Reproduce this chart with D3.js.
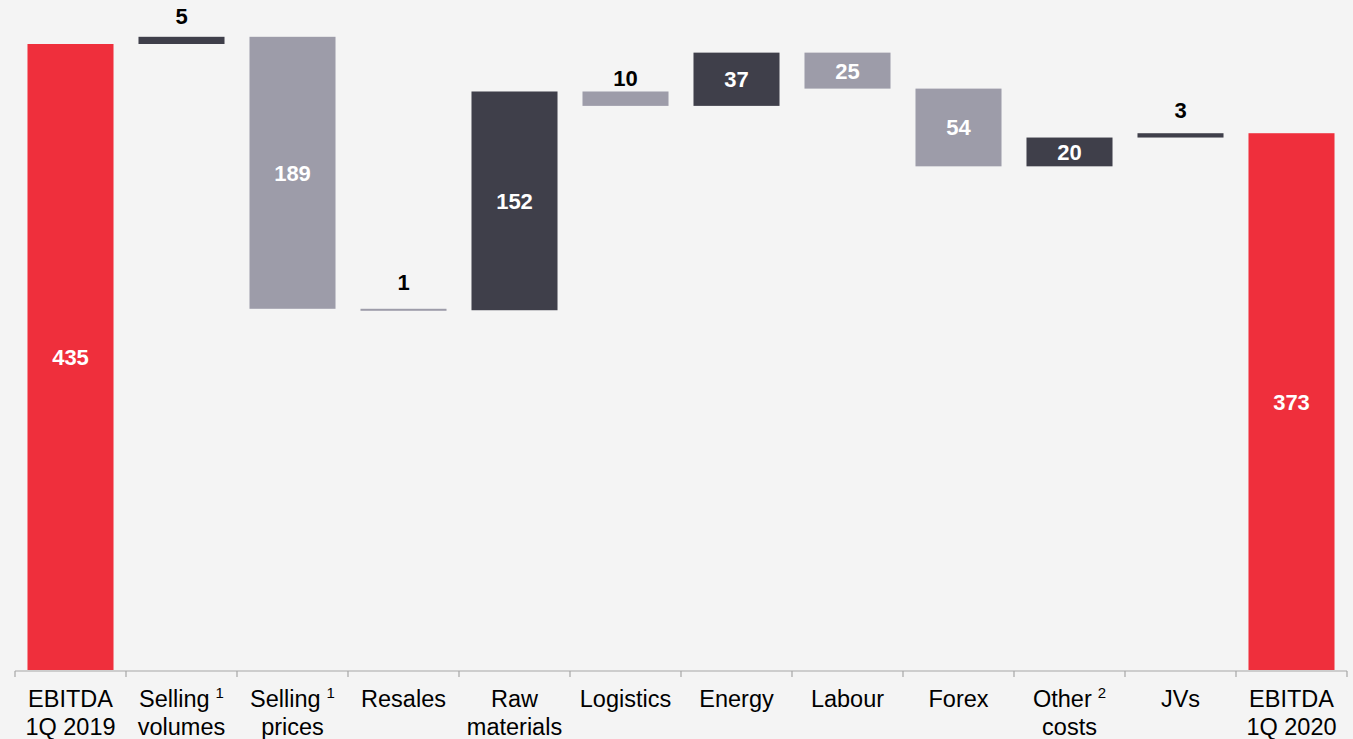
<!DOCTYPE html>
<html>
<head>
<meta charset="utf-8">
<script src="https://cdn.jsdelivr.net/npm/d3@7"></script>
<style>
html,body{margin:0;padding:0;background:#f4f4f4;}
svg{display:block;font-family:"Liberation Sans",Arial,Helvetica,sans-serif;}
</style>
</head>
<body>
<svg id="chart" width="1353" height="739"></svg>
<script>
// ---- data ----
const categories = ["EBITDA 1Q 2019","Selling volumes","Selling prices","Resales","Raw materials","Logistics","Energy","Labour","Forex","Other costs","JVs","EBITDA 1Q 2020"];
const labelLine1 = ["EBITDA","Selling","Selling","Resales","Raw","Logistics","Energy","Labour","Forex","Other","JVs","EBITDA"];
const labelLine2 = ["1Q 2019","volumes","prices","","materials","","","","","costs","","1Q 2020"];
const superscripts = ["","1","1","","","","","","","2","",""];
const values = [435, 5, -189, -1, 152, -10, 37, -25, -54, 20, 3, 373];
const kinds = ["total","delta","delta","delta","delta","delta","delta","delta","delta","delta","delta","total"];

const colors = {total:"#ef2f3c", up:"#3f3f4a", down:"#9d9ca9"};

// ---- build waterfall ----
let running = 0;
const bars = categories.map((c,i)=>{
  let y0, y1, kind;
  if (kinds[i]==="total") { y0 = 0; y1 = values[i]; running = values[i]; kind="total"; }
  else { y0 = running; y1 = running + values[i]; running = y1; kind = values[i] >= 0 ? "up" : "down"; }
  return {cat:c, i, lo:Math.min(y0,y1), hi:Math.max(y0,y1), label:Math.abs(values[i]), kind};
});

const svg = d3.select("#chart");
const x = d3.scaleBand().domain(categories).range([15,1347]).paddingInner(0.225).paddingOuter(0.1125);
const y = d3.scaleLinear().domain([0,435]).range([670,44]);

// bars
svg.append("g").selectAll("rect").data(bars).join("rect")
  .attr("x", d=>x(d.cat))
  .attr("width", x.bandwidth())
  .attr("y", d=>y(d.hi))
  .attr("height", d=>Math.max(2, y(d.lo)-y(d.hi)))
  .attr("fill", d=>colors[d.kind]);

// value labels
svg.append("g").selectAll("text").data(bars).join("text")
  .attr("x", d=>x(d.cat)+x.bandwidth()/2)
  .attr("text-anchor","middle")
  .attr("font-size", 22)
  .attr("font-weight","bold")
  .each(function(d){
    const h = y(d.lo)-y(d.hi);
    const t = d3.select(this);
    if (h < 20) {
      t.attr("y", y(d.lo)-20).attr("fill","#000");
    } else {
      t.attr("y", (y(d.lo)+y(d.hi))/2).attr("dy","0.36em").attr("fill","#fff");
    }
  })
  .text(d=>d.label);

// axis
const axisG = svg.append("g");
const step = x.step();
const left = x(categories[0]) - step*x.paddingOuter();
axisG.append("line")
  .attr("x1", left).attr("x2", x.range()[1])
  .attr("y1", 671).attr("y2", 671)
  .attr("stroke","#a6a6a6").attr("stroke-width",1.2);
const bounds = d3.range(categories.length+1).map(k=> left + k*step);
axisG.selectAll("line.tick").data(bounds).join("line")
  .attr("class","tick")
  .attr("x1", d=>d).attr("x2", d=>d)
  .attr("y1", 671).attr("y2", 677)
  .attr("stroke","#a6a6a6").attr("stroke-width",1.2);

// category labels
const lab = svg.append("g").selectAll("g").data(categories).join("g");
lab.each(function(c,i){
  const g = d3.select(this);
  const cx = x(c)+x.bandwidth()/2;
  const t1 = g.append("text").attr("x", cx).attr("y", 706.5)
    .attr("text-anchor","middle").attr("font-size",23.5).attr("fill","#000");
  t1.append("tspan").text(labelLine1[i]);
  if (superscripts[i]) {
    t1.append("tspan").attr("font-size",15).attr("dy",-9).attr("dx",6).text(superscripts[i]);
  }
  if (labelLine2[i]) {
    g.append("text").attr("x", cx).attr("y", 734.5)
      .attr("text-anchor","middle").attr("font-size",23.5).attr("fill","#000")
      .text(labelLine2[i]);
  }
});
</script>
</body>
</html>
